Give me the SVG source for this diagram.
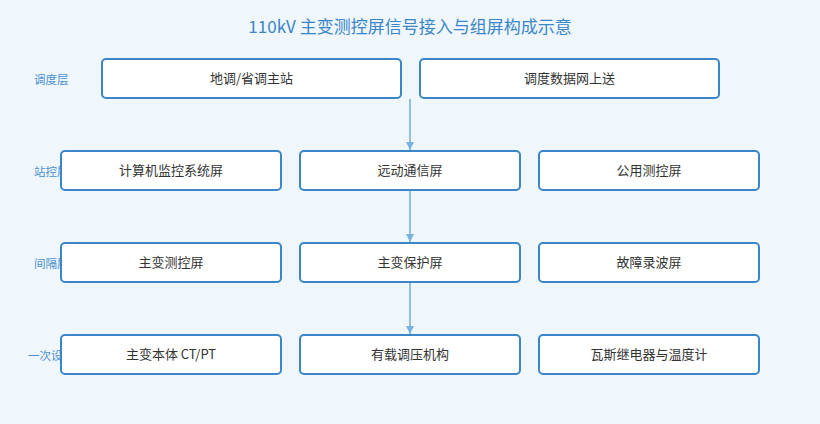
<svg xmlns="http://www.w3.org/2000/svg" width="820" height="424" viewBox="0 0 820 424">
<defs>
<style>
.n{fill:#fff;stroke:#3a86c8;stroke-width:2}
.t{font-family:"Noto Sans CJK SC","Liberation Sans",sans-serif;font-size:13px;fill:#333;text-anchor:middle}
.l{font-family:"Noto Sans CJK SC","Liberation Sans",sans-serif;font-size:11.5px;fill:#4a90d0}
.c{stroke:#7ab3dc;stroke-width:1.6;fill:none}
</style>
<marker id="a" viewBox="0 0 10 10" refX="10" refY="5" markerWidth="5" markerHeight="5" orient="auto"><path d="M0,0L10,5L0,10z" fill="#7ab3dc"/></marker>
</defs>
<rect width="820" height="424" fill="#eff6fc"/>
<text x="410" y="33" text-anchor="middle" font-family="Noto Sans CJK SC,Liberation Sans,sans-serif" font-size="17" fill="#3a86c8">110kV 主变测控屏信号接入与组屏构成示意</text>
<text class="l" x="34" y="84">调度层</text>
<text class="l" x="34" y="176">站控层</text>
<text class="l" x="34" y="268">间隔层</text>
<text class="l" x="28" y="360">一次设备层</text>
<g id="connectors">
<path class="c" d="M410,99V150" marker-end="url(#a)"/>
<path class="c" d="M410,191V242" marker-end="url(#a)"/>
<path class="c" d="M410,283V334" marker-end="url(#a)"/>
</g>
<g id="n1"><rect class="n" x="102" y="59" width="299" height="39" rx="4"/><text class="t" x="251.5" y="83">地调/省调主站</text></g>
<g id="n2"><rect class="n" x="420" y="59" width="299" height="39" rx="4"/><text class="t" x="569.5" y="83">调度数据网上送</text></g>
<g id="n3"><rect class="n" x="61" y="151" width="220" height="39" rx="4"/><text class="t" x="171" y="175">计算机监控系统屏</text></g>
<g id="n4"><rect class="n" x="300" y="151" width="220" height="39" rx="4"/><text class="t" x="410" y="175">远动通信屏</text></g>
<g id="n5"><rect class="n" x="539" y="151" width="220" height="39" rx="4"/><text class="t" x="649" y="175">公用测控屏</text></g>
<g id="n6"><rect class="n" x="61" y="243" width="220" height="39" rx="4"/><text class="t" x="171" y="267">主变测控屏</text></g>
<g id="n7"><rect class="n" x="300" y="243" width="220" height="39" rx="4"/><text class="t" x="410" y="267">主变保护屏</text></g>
<g id="n8"><rect class="n" x="539" y="243" width="220" height="39" rx="4"/><text class="t" x="649" y="267">故障录波屏</text></g>
<g id="n9"><rect class="n" x="61" y="335" width="220" height="39" rx="4"/><text class="t" x="171" y="359">主变本体 CT/PT</text></g>
<g id="n10"><rect class="n" x="300" y="335" width="220" height="39" rx="4"/><text class="t" x="410" y="359">有载调压机构</text></g>
<g id="n11"><rect class="n" x="539" y="335" width="220" height="39" rx="4"/><text class="t" x="649" y="359">瓦斯继电器与温度计</text></g>
</svg>
